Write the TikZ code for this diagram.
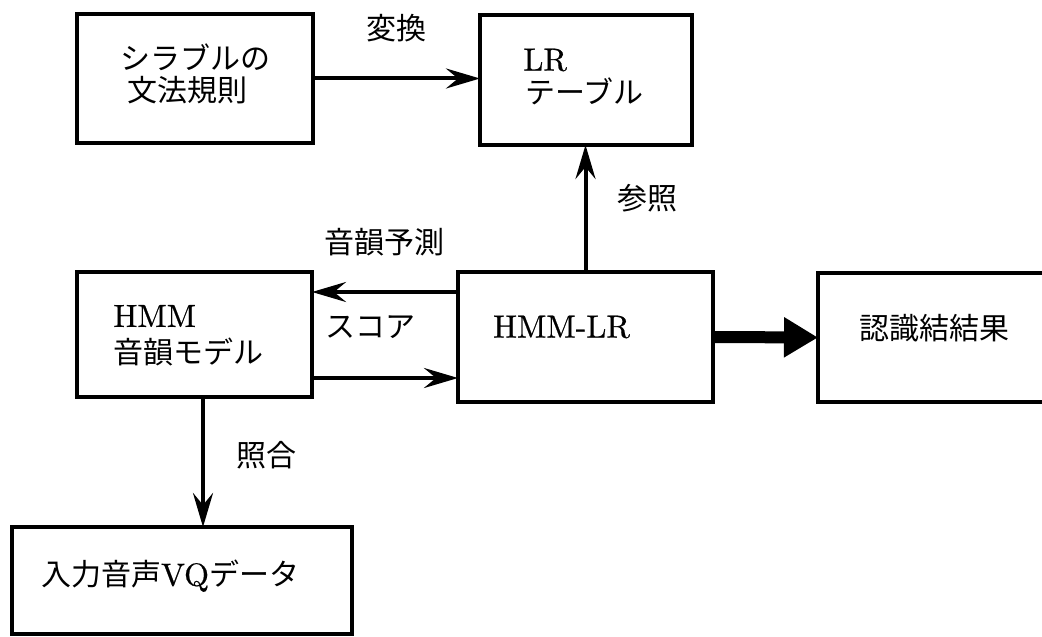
\documentclass[tikz,border=0pt]{standalone}
\usepackage{fontspec}
\newfontfamily\jp{Noto Sans CJK JP}
\newfontfamily\lmten[FakeBold=0.6]{lmroman10-regular.otf}
\usetikzlibrary{arrows.meta}
\begin{document}
\begin{tikzpicture}[x=0.5pt,y=-0.5pt,
  box/.style={draw,line width=2pt,inner sep=0pt,outer sep=0pt},
  jtxt/.style={font=\jp\fontsize{15pt}{18pt}\selectfont,inner sep=0pt},
  ltxt/.style={font=\lmten\fontsize{16pt}{19pt}\selectfont,inner sep=0pt},
  arr/.style={line width=2pt,-{Stealth[length=17pt,width=10pt,inset=6pt]}},
  bigarr/.style={line width=6pt,-{Triangle[length=17pt,width=19pt]}}]
\clip (0,0) rectangle (1042,636);
\fill[white] (0,0) rectangle (1042,636);
% boxes
\node[box,minimum width=118pt,minimum height=64.5pt] (syl) at (195,78.5) {};
\node[box,minimum width=106pt,minimum height=65pt] (lr) at (586,80) {};
\node[box,minimum width=117.5pt,minimum height=62.5pt] (hmm) at (194.5,334.5) {};
\node[box,minimum width=127.5pt,minimum height=65pt] (hmmlr) at (585.5,337) {};
\node[box,minimum width=116pt,minimum height=64.5pt] (res) at (934,337.5) {};
\node[box,minimum width=170pt,minimum height=53.5pt] (vq) at (182,580.5) {};
% box texts
\node[jtxt] (t1a) at (195,57) {シラブルの};
\node[jtxt] (t1b) at (187,90) {文法規則};
\node[ltxt,anchor=west] (t2a) at (523,60) {LR};
\node[jtxt,anchor=west] (t2b) at (525,91) {テーブル};
\node[ltxt,anchor=west] (t3a) at (113,316) {HMM};
\node[jtxt,anchor=west] (t3b) at (113,352) {音韻モデル};
\node[ltxt] (t4) at (561.5,327) {HMM-LR};
\node[jtxt] (t5) at (934,328) {認識結結果};
\node[jtxt] (t6) at (170,576) {入力音声{\lmten\fontsize{16pt}{19pt}\selectfont VQ}データ};
% labels
\node[jtxt] (l1) at (396,28) {変換};
\node[jtxt] (l2) at (647,198) {参照};
\node[jtxt] (l3) at (384,242) {音韻予測};
\node[jtxt] (l4) at (370,327) {スコア};
\node[jtxt] (l5) at (266,455) {照合};
% connectors
\coordinate (ya) at (0,292);
\coordinate (yb) at (0,378);
\coordinate (xd) at (203,0);
\draw[arr] (syl.east) -- (syl.east -| lr.west);
\draw[arr] (hmmlr.north) -- (hmmlr.north |- lr.south);
\draw[arr] (hmmlr.west |- ya) -- (hmm.east |- ya);
\draw[arr] (hmm.east |- yb) -- (hmmlr.west |- yb);
\draw[arr] (hmm.south -| xd) -- (vq.north -| xd);
\draw[bigarr] (hmmlr.east) -- (res.west);
\end{tikzpicture}
\end{document}
